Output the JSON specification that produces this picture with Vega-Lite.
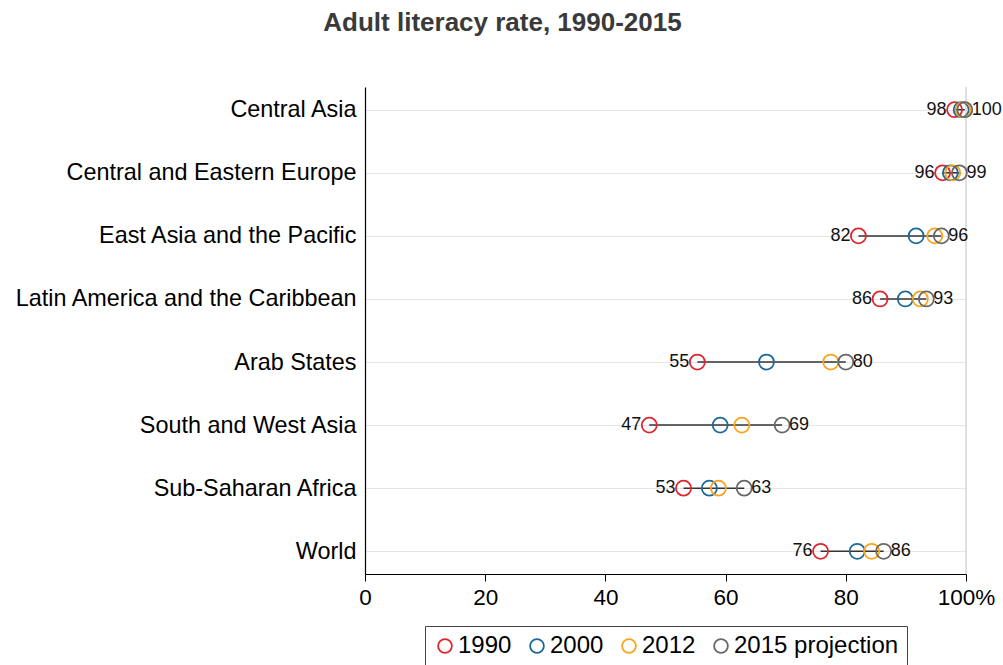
{
  "$schema": "https://vega.github.io/schema/vega-lite/v6.json",
  "width": 601,
  "height": 487,
  "autosize": {"type": "none"},
  "padding": {"left": 365, "top": 87, "right": 37, "bottom": 91},
  "background": "white",
  "config": {
    "font": "Liberation Sans",
    "view": {"stroke": null},
    "axis": {"labelFont": "Liberation Sans", "labelColor": "#000", "domainColor": "#000", "tickColor": "#000"}
  },
  "title": {
    "text": "Adult literacy rate, 1990-2015",
    "fontSize": 26,
    "fontWeight": "bold",
    "color": "#3a3a3a",
    "anchor": "middle",
    "dx": -163,
    "offset": 50
  },
  "data": {
    "values": [
      {"region": "Central Asia", "series": "1990", "value": 98.1},
      {"region": "Central Asia", "series": "2000", "value": 99.2},
      {"region": "Central Asia", "series": "2012", "value": 99.5},
      {"region": "Central Asia", "series": "2015 projection", "value": 99.8},
      {"region": "Central and Eastern Europe", "series": "1990", "value": 96.1},
      {"region": "Central and Eastern Europe", "series": "2000", "value": 97.4},
      {"region": "Central and Eastern Europe", "series": "2012", "value": 97.8},
      {"region": "Central and Eastern Europe", "series": "2015 projection", "value": 98.9},
      {"region": "East Asia and the Pacific", "series": "1990", "value": 82.1},
      {"region": "East Asia and the Pacific", "series": "2000", "value": 91.7},
      {"region": "East Asia and the Pacific", "series": "2012", "value": 94.8},
      {"region": "East Asia and the Pacific", "series": "2015 projection", "value": 95.9},
      {"region": "Latin America and the Caribbean", "series": "1990", "value": 85.7},
      {"region": "Latin America and the Caribbean", "series": "2000", "value": 89.9},
      {"region": "Latin America and the Caribbean", "series": "2012", "value": 92.4},
      {"region": "Latin America and the Caribbean", "series": "2015 projection", "value": 93.4},
      {"region": "Arab States", "series": "1990", "value": 55.3},
      {"region": "Arab States", "series": "2000", "value": 66.8},
      {"region": "Arab States", "series": "2012", "value": 77.5},
      {"region": "Arab States", "series": "2015 projection", "value": 80.0},
      {"region": "South and West Asia", "series": "1990", "value": 47.3},
      {"region": "South and West Asia", "series": "2000", "value": 59.1},
      {"region": "South and West Asia", "series": "2012", "value": 62.7},
      {"region": "South and West Asia", "series": "2015 projection", "value": 69.4},
      {"region": "Sub-Saharan Africa", "series": "1990", "value": 53.0},
      {"region": "Sub-Saharan Africa", "series": "2000", "value": 57.3},
      {"region": "Sub-Saharan Africa", "series": "2012", "value": 58.8},
      {"region": "Sub-Saharan Africa", "series": "2015 projection", "value": 63.1},
      {"region": "World", "series": "1990", "value": 75.8},
      {"region": "World", "series": "2000", "value": 81.9},
      {"region": "World", "series": "2012", "value": 84.3},
      {"region": "World", "series": "2015 projection", "value": 86.3}
    ]
  },
  "encoding": {
    "y": {
      "field": "region",
      "type": "nominal",
      "sort": null,
      "scale": {"type": "point", "padding": 0.36},
      "axis": {
        "title": null,
        "labelFontSize": 23.4,
        "labelColor": "#000",
        "ticks": false,
        "labelPadding": 9,
        "grid": true,
        "gridColor": "#e6e6e6",
        "gridWidth": 1.2,
        "domainColor": "#000",
        "domainWidth": 1.2,
        "labelLimit": 400
      }
    }
  },
  "layer": [
    {
      "mark": {"type": "rule", "color": "#e0e0e0", "strokeWidth": 1.2},
      "encoding": {"x": {"datum": 100, "type": "quantitative"}, "y": null}
    },
    {
      "mark": {"type": "rule", "color": "#333", "strokeWidth": 1.5},
      "encoding": {
        "x": {
          "aggregate": "min",
          "field": "value",
          "type": "quantitative",
          "scale": {"domain": [0, 100], "nice": false},
          "axis": {
            "title": null,
            "values": [0, 20, 40, 60, 80, 100],
            "labelFontSize": 22.5,
            "labelColor": "#000",
            "tickSize": 7,
            "tickColor": "#000",
            "domainColor": "#000",
            "domainWidth": 1.2,
            "labelPadding": 5,
            "grid": false,
            "labelFlush": false,
            "labelExpr": "datum.value == 100 ? '100%' : datum.label"
          }
        },
        "x2": {"aggregate": "max", "field": "value"}
      }
    },
    {
      "mark": {"type": "point", "shape": "circle", "filled": false, "size": 225, "strokeWidth": 1.8, "opacity": 1},
      "encoding": {
        "x": {"field": "value", "type": "quantitative"},
        "color": {
          "field": "series",
          "type": "nominal",
          "scale": {
            "domain": ["1990", "2000", "2012", "2015 projection"],
            "range": ["#e0262d", "#1d6898", "#f8a41c", "#686868"]
          },
          "legend": {
            "orient": "none",
            "legendX": 60,
            "legendY": 539,
            "direction": "horizontal",
            "title": null,
            "labelFontSize": 24,
            "labelColor": "#000",
            "labelFont": "Liberation Sans",
            "labelLimit": 400,
            "symbolType": "circle",
            "symbolSize": 190,
            "symbolStrokeWidth": 1.8,
            "symbolFillColor": "transparent",
            "strokeColor": "#444",
            "padding": 8,
            "columnPadding": 13,
            "labelOffset": 1
          }
        },
        "order": {"field": "series", "type": "ordinal"}
      }
    },
    {
      "transform": [{"filter": "datum.series == '1990'"}],
      "mark": {"type": "text", "align": "right", "baseline": "middle", "dx": -8, "fontSize": 18, "color": "#111"},
      "encoding": {
        "x": {"field": "value", "type": "quantitative"},
        "text": {"field": "value", "type": "quantitative", "format": ".0f"}
      }
    },
    {
      "transform": [{"filter": "datum.series == '2015 projection'"}],
      "mark": {"type": "text", "align": "left", "baseline": "middle", "dx": 7, "fontSize": 18, "color": "#111"},
      "encoding": {
        "x": {"field": "value", "type": "quantitative"},
        "text": {"field": "value", "type": "quantitative", "format": ".0f"}
      }
    }
  ]
}
